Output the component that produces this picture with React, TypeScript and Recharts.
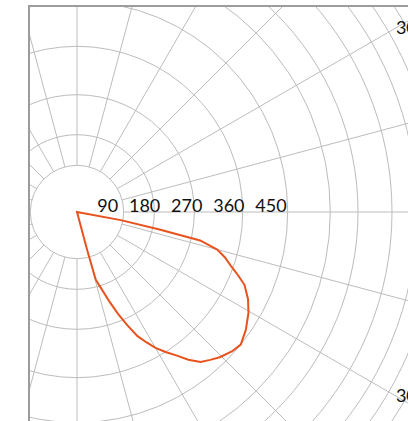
import { PolarAngleAxis, PolarGrid, PolarRadiusAxis, Radar, RadarChart } from "recharts";

// lobe of the intensity curve: angle in degrees clockwise from the right-hand horizontal
const lobeAngle = [10, 10.5, 12, 13, 15, 17, 19.5, 21.5, 23.5, 27, 30.5, 35, 39, 42, 45.5, 48, 50.5, 53, 55, 57.5, 60, 62, 64, 66, 68, 70, 73, 74.5, 75, 75.5];
const lobeValue = [0, 95, 180, 270, 310, 330, 350, 370, 390, 410, 425, 440, 450, 445, 435, 425, 415, 395, 375, 355, 335, 315, 295, 265, 235, 205, 165, 150, 85, 0];

const radiusTicks = [90, 180, 270, 360, 450];
const angleTicks = [30, 330];
const spokeAngles = [0, 15, 30, 45, 60, 75, 90, 105, 120, 135, 150, 165, 180, 195, 210, 225, 240, 255, 270, 285, 300, 315, 330, 345];

// grid rings (px)
const ringRadii = [46.7, 77.3, 117.3, 165.7, 210.7, 253.3, 281, 315, 340, 360, 378];

const W = 378;
const H = 414;
const CX = 47;
const CY = 205;
const RADIUS_MAX = 810;
const OUTER = (RADIUS_MAX * 210.7) / 450;
const FONT = "Lato, 'Noto Sans', sans-serif";

const data = lobeAngle.map((angle, i) => ({ angle, value: lobeValue[i] }));

function RadiusTick(props: any) {
  const { x, y, payload } = props;
  if (!radiusTicks.includes(payload.value)) return <g />;
  return (
    <text x={x - 1} y={y} textAnchor="end" fontSize={18} fontFamily={FONT} fill="#111">
      {payload.value}
    </text>
  );
}

function AngleTick(props: any) {
  const { x, y, payload } = props;
  if (!angleTicks.includes(payload.value)) return <g />;
  const deg = payload.value > 180 ? 360 - payload.value : payload.value;
  return (
    <text x={x} y={y} dy="0.35em" textAnchor="start" fontSize={18} fontFamily={FONT} fill="#111">
      {deg}°
    </text>
  );
}

export default function App() {
  return (
    <div
      style={{
        position: "absolute",
        left: 28,
        top: 5,
        width: W,
        height: H,
        borderLeft: "2px solid #9c9c9c",
        borderTop: "2px solid #9c9c9c",
        overflow: "hidden",
        background: "#fff",
      }}
    >
      <div style={{ position: "absolute", left: 0, top: 0 }}>
        <RadarChart
          width={W}
          height={H}
          data={data}
          cx={CX}
          cy={CY}
          innerRadius={ringRadii[0]}
          outerRadius={430}
          margin={{ top: 0, right: 0, bottom: 0, left: 0 }}
        >
          <PolarGrid gridType="circle" polarRadius={ringRadii} polarAngles={spokeAngles} stroke="#bcbcbc" />
        </RadarChart>
      </div>
      <div style={{ position: "absolute", left: 0, top: 0 }}>
        <RadarChart
          width={W}
          height={H}
          data={data}
          cx={CX}
          cy={CY}
          innerRadius={0}
          outerRadius={OUTER}
          startAngle={0}
          endAngle={-360}
          margin={{ top: 0, right: 0, bottom: 0, left: 0 }}
        >
          <PolarAngleAxis
            type="number"
            dataKey="angle"
            domain={[0, 360]}
            ticks={angleTicks}
            tickCount={13}
            tickSize={-11}
            tickLine={false}
            axisLine={false}
            tick={AngleTick}
          />
          <PolarRadiusAxis
            angle={0}
            domain={[0, RADIUS_MAX]}
            ticks={radiusTicks}
            tickCount={10}
            axisLine={false}
            tickLine={false}
            tick={RadiusTick}
          />
          <Radar
            dataKey="value"
            stroke="#e8521c"
            strokeWidth={2}
            fill="none"
            fillOpacity={0}
            dot={false}
            isAnimationActive={false}
          />
        </RadarChart>
      </div>
    </div>
  );
}
